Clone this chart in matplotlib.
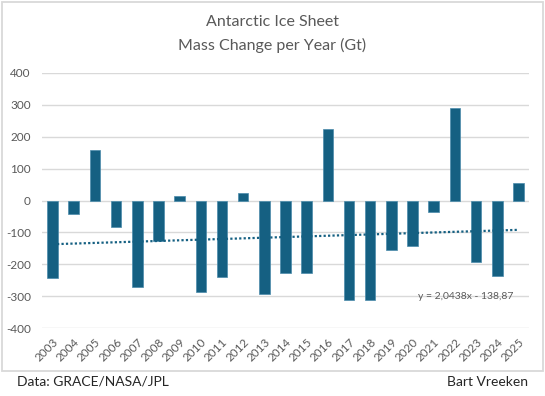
import matplotlib
matplotlib.use("Agg")
import matplotlib.pyplot as plt
from matplotlib.patches import Rectangle
import numpy as np

years = [str(y) for y in range(2003, 2026)]
mass_change = [-243, -42, 157, -83, -270, -128, 13, -285, -241, 22, -294, -226,
               -226, 223, -310, -310, -154, -141, -37, 290, -194, -235, 56]
trend_slope = 2.0438
trend_intercept = -138.87
trend_label = "y = 2,0438x - 138,87"
yticks = [-400, -300, -200, -100, 0, 100, 200, 300, 400]

bar_color = "#156082"
text_grey = "#595959"
grid_grey = "#d9d9d9"

plt.rcParams['font.family'] = ['Lato', 'DejaVu Sans']

W, H = 545, 396
fig = plt.figure(figsize=(W / 100, H / 100), dpi=100)

# chart border
fig.patches.append(Rectangle((1.5 / W, 1 - 371 / H), 541 / W, 369.5 / H,
                             transform=fig.transFigure, fill=False,
                             edgecolor=grid_grey, linewidth=1.3))

left, right = 42 / W, 529 / W
top_px, bot_px = 72.7, 328.3
ax = fig.add_axes([left, 1 - bot_px / H, right - left, (bot_px - top_px) / H])

x = np.arange(1, len(years) + 1)
ax.bar(x, mass_change, width=0.5, color=bar_color, edgecolor="#4a8bab",
       linewidth=0.5, zorder=3)

xt = np.array([x[0], x[-1]])
ax.plot(xt, trend_slope * xt + trend_intercept, linestyle=(0, (1, 1)),
        color=bar_color, linewidth=1.6, zorder=4)

ax.set_xlim(0.5, len(years) + 0.5)
ax.set_ylim(-400, 400)
ax.set_yticks(yticks)
ax.set_yticklabels([str(v) for v in yticks])
ax.set_xticks(x)
ax.set_xticklabels(years, rotation=45, ha="right", rotation_mode="anchor")
ax.tick_params(axis="both", length=0, labelsize=8.5, labelcolor=text_grey)
ax.tick_params(axis="x", pad=6)
ax.tick_params(axis="y", pad=8)
ax.grid(axis="y", color=grid_grey, linewidth=1.0, zorder=0)
for s in ax.spines.values():
    s.set_visible(False)

fig.text(513 / W, 1 - 296.7 / H, trend_label,
         ha="right", va="center", fontsize=7.5, color=text_grey)

fig.text(272 / W, 1 - 22 / H, "Antarctic Ice Sheet", ha="center", va="center",
         fontsize=11.5, color=text_grey)
fig.text(272 / W, 1 - 45 / H, "Mass Change per Year (Gt)", ha="center",
         va="center", fontsize=11.5, color=text_grey)

fig.text(17 / W, 1 - 382 / H, "Data: GRACE/NASA/JPL", ha="left", va="center",
         fontsize=10, color="#262626")
fig.text(528 / W, 1 - 382 / H, "Bart Vreeken", ha="right", va="center",
         fontsize=10, color="#262626")

fig.savefig("out.png", dpi=100)
